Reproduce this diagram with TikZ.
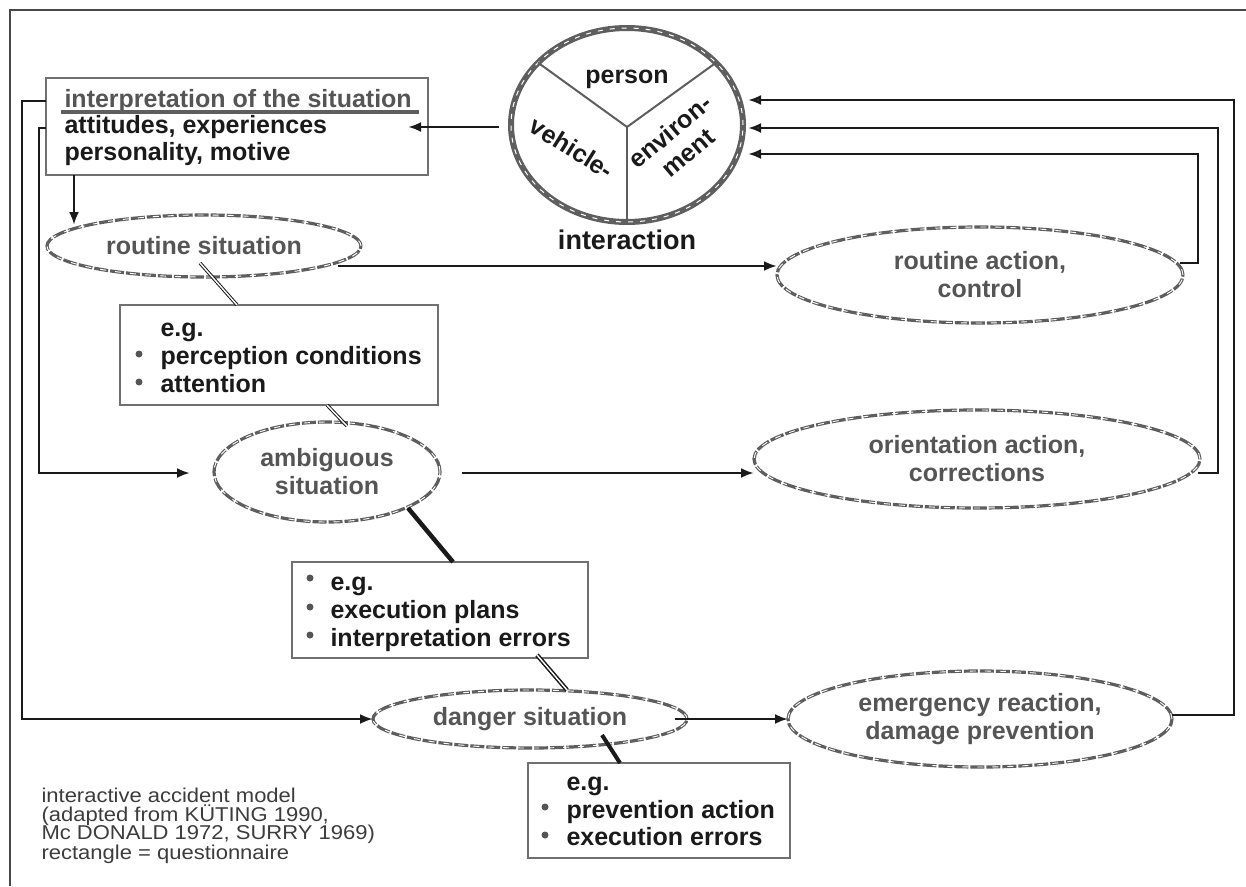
\documentclass[tikz,border=0pt]{standalone}
\usepackage{fontspec}
\setmainfont{Liberation Sans}
\newfontfamily\notefont[FakeStretch=1.1]{Liberation Sans}
\usetikzlibrary{arrows.meta,shapes.geometric,calc}
\definecolor{ink}{HTML}{1A1A1A}
\definecolor{lbl}{HTML}{555555}
\definecolor{boxc}{HTML}{707070}
\definecolor{ring}{HTML}{5E5E5E}
\begin{document}
\begin{tikzpicture}[x=1pt,y=-1pt,
  big/.style={font=\fontsize{25}{28}\selectfont\bfseries},
  oval/.style={ellipse, draw=ring, line width=3.2pt, dash pattern=on 14pt off 2pt,
    postaction={draw=white, line width=0.9pt, dash pattern=on 6pt off 9pt},
    inner sep=0pt, outer sep=0pt, text=lbl, align=center, big},
  qbox/.style={draw=boxc, line width=2pt, inner sep=0pt, outer sep=0pt, anchor=north west},
  txt/.style={anchor=base west, big, text=ink},
  bul/.style={circle, fill=lbl, inner sep=0pt, minimum size=7pt},
  arr/.style={-{Latex[length=13pt,width=10pt]}, line width=2.6pt, draw=ink},
  fb/.style={-{Latex[open,length=13pt,width=10pt]}, line width=2.6pt, draw=ink},
  dbl/.style={draw=ink, line width=1pt, double=white, double distance=1.4pt},
  thk/.style={draw=ink, line width=4.5pt},
  spoke/.style={draw=ring, line width=2pt},
  note/.style={anchor=base west, font=\notefont\fontsize{20}{19}\selectfont, text=ink!85}
]
\useasboundingbox (0,0) rectangle (1246,886);
% frame
\draw[line width=1.4pt, draw=ink!80] (10,886) -- (10,10) -- (1246,10);

% interaction circle
\node[ellipse, draw=ring, line width=6pt, minimum width=232pt, minimum height=194pt,
  inner sep=0pt, outer sep=0pt,
  postaction={draw=white, line width=1pt, dash pattern=on 5pt off 7pt}] (circ) at (627,125) {};
\draw[spoke] (627,127) -- (circ.145);
\draw[spoke] (627,127) -- (circ.35);
\draw[spoke] (627,127) -- (circ.south);
\node[big, text=ink] (pers) at (627,79) {person};
\node[big, text=ink, rotate=-32] (veh) at (572,148) {vehicle-};
\node[big, text=ink, rotate=40, align=center] (env) at (679,142) {environ-\\ment};
\node[font=\fontsize{27}{30}\selectfont\bfseries, text=ink] (inter) at (627,240) {interaction};

% interpretation box
\node[qbox, minimum width=382pt, minimum height=97pt] (interp) at (46,78) {};
\node[txt, text=lbl] (t1) at (61,107) {interpretation of the situation};
\draw[line width=3.8pt, draw=ring] ($(t1.base west)+(0,5)$) -- ($(t1.base east)+(4,5)$);
\node[txt] (t2) at (61,133) {attitudes, experiences};
\node[txt] (t3) at (61,160) {personality, motive};

% ellipses
\node[oval, minimum width=314pt, minimum height=62pt] (rsit) at (204,246) {routine situation};
\node[oval, minimum width=406pt, minimum height=96pt] (ract) at (980,275) {routine action,\\control};
\node[oval, minimum width=226pt, minimum height=100pt] (amb) at (327,472) {ambiguous\\situation};
\node[oval, minimum width=446pt, minimum height=98pt] (orient) at (977,459) {orientation action,\\corrections};
\node[oval, minimum width=314pt, minimum height=58pt] (dang) at (530,719) {danger situation};
\node[oval, minimum width=384pt, minimum height=96pt] (emerg) at (980,719) {emergency reaction,\\damage prevention};

% box 1
\node[qbox, minimum width=318pt, minimum height=100pt] (b1) at (120,305) {};
\node[txt] (b1a) at (157,336) {e.g.};
\node[txt] (b1b) at (157,364) {perception conditions};
\node[txt] (b1c) at (157,392) {attention};
\node[bul] (b1p) at (139,354) {};
\node[bul] (b1q) at (139,382) {};

% box 2
\node[qbox, minimum width=296pt, minimum height=96pt] (b2) at (292,562) {};
\node[txt] (b2a) at (327,590) {e.g.};
\node[txt] (b2b) at (327,618) {execution plans};
\node[txt] (b2c) at (327,646) {interpretation errors};
\node[bul] (b2p) at (310,578) {};
\node[bul] (b2q) at (310,607) {};
\node[bul] (b2r) at (310,635) {};

% box 3
\node[qbox, minimum width=262pt, minimum height=95pt] (b3) at (528,763) {};
\node[txt] (b3a) at (563,790) {e.g.};
\node[txt] (b3b) at (563,818) {prevention action};
\node[txt] (b3c) at (563,845) {execution errors};
\node[bul] (b3p) at (545,807) {};
\node[bul] (b3q) at (545,835) {};

% arrow ends at circle
\coordinate (e1) at ($(circ.east)+(5,-25)$);
\coordinate (e2) at ($(circ.east)+(5,3)$);
\coordinate (e3) at ($(circ.east)+(5,29)$);

% connectors
\draw[arr] ($(circ.west)+(-12,2)$) -- ($(interp.east)+(-20,0.5)$);
\draw[arr] ($(interp.south west)+(28,0)$) -- ++(0,50);
\draw[arr] ($(interp.west)+(0,-25.5)$) -- (22,101) |- (dang.west);
\draw[arr] ($(interp.west)+(0,1.5)$) -- (39,128) |- ($(amb.west)+(-24,1)$);
\draw[arr] ($(rsit.east)+(-23,20)$) -- ($(ract.west)+(0,-9)$);
\draw[arr] ($(amb.east)+(22,1)$) -- ($(orient.west)+(0,14)$);
\draw[arr] ($(dang.east)+(-12,0)$) -- (emerg.west);

\draw[fb] ($(ract.east)+(-3,-12)$) -- (1198,263) |- (e3);
\draw[fb] ($(orient.east)+(-2,14)$) -- (1218,473) |- (e2);
\draw[fb] ($(emerg.east)+(0,-4)$) -- (1234,715) |- (e1);

\draw[dbl] ($(rsit.south)+(-4,-14)$) -- ($(b1.north west)+(117,0)$);
\draw[dbl] ($(b1.south west)+(207,0)$) -- ($(amb.north)+(20,4)$);
\draw[thk] ($(amb.south)+(81,-14)$) -- ($(b2.north west)+(161,0)$);
\draw[dbl, line width=1.5pt] ($(b2.south west)+(245,-3)$) -- ($(dang.north)+(37,0)$);
\draw[thk, line width=4pt] ($(dang.south)+(72,-13)$) -- ($(b3.north west)+(92,0)$);

% note
\node[note] (n1) at (38,802) {interactive accident model};
\node[note] (n2) at (38,821) {(adapted from KÜTING 1990,};
\node[note] (n3) at (38,839) {Mc DONALD 1972, SURRY 1969)};
\node[note] (n4) at (38,859) {rectangle = questionnaire};
\end{tikzpicture}
\end{document}
